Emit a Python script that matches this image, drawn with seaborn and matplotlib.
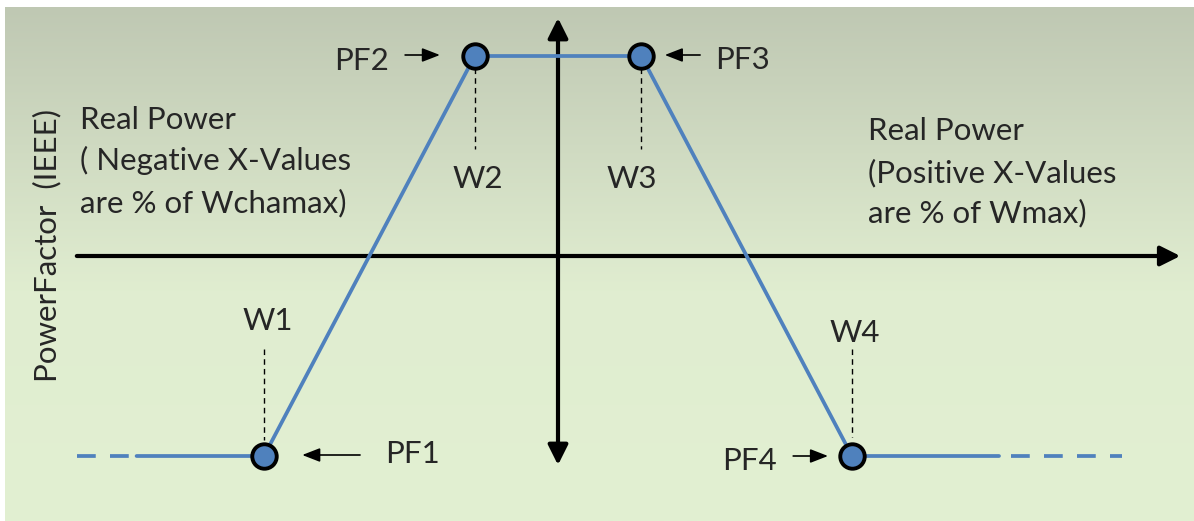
import numpy as np
import pandas as pd
import matplotlib
matplotlib.use("Agg")
import matplotlib.pyplot as plt
import seaborn as sns
from matplotlib.colors import LinearSegmentedColormap

sns.set_style("white")
plt.rcParams['font.family'] = ['Lato', 'DejaVu Sans']

# Volt-var style curve: real power (%) vs power factor
point_names = ["1", "2", "3", "4"]
w_values = [-60, -17, 17, 60]          # W1..W4 (% of Wchamax / Wmax)
pf_values = [-1.0, 1.0, 1.0, -1.0]     # PF1..PF4
tail_solid = [-86, 90]                 # solid extension beyond W1 / W4
tail_dash_left = [-98.2, -86]
tail_dash_right = [92.4, 115.1]

BLUE = "#4f81bd"
TXT = 22.5

fig = plt.figure(figsize=(11.94, 5.21), dpi=100)
ax = fig.add_axes([0, 0, 1, 1])
xlim = (-558 / 4.9, (1194 - 558) / 4.9)
ylim = ((256 - 521) / 200, 256 / 200)
ax.set_xlim(*xlim)
ax.set_ylim(*ylim)
ax.axis("off")

# gradient panel
grad = LinearSegmentedColormap.from_list(
    "bg", [(0, "#bfc8b3"), (0.55, "#e0edd0"), (1, "#e2f0d2")])
g = np.linspace(0, 1, 256).reshape(-1, 1)
ax.imshow(g, cmap=grad, aspect="auto", zorder=0,
          extent=[(5 - 558) / 4.9, xlim[1], ylim[0], (256 - 7) / 200])

# axes with arrows
ax.annotate("", xy=(127, 0), xytext=(-98.2, 0),
            arrowprops=dict(arrowstyle="-|>,head_length=0.8,head_width=0.4",
                            lw=3, color="black", shrinkA=0, shrinkB=0,
                            mutation_scale=15), zorder=2)
ax.annotate("", xy=(0, 1.19), xytext=(0, -1.045),
            arrowprops=dict(arrowstyle="<|-|>,head_length=0.8,head_width=0.4",
                            lw=3, color="black", shrinkA=0, shrinkB=0,
                            mutation_scale=15), zorder=2)

# curve
curve = pd.DataFrame({
    "w": [tail_solid[0]] + w_values + [tail_solid[1]],
    "pf": [pf_values[0]] + pf_values + [pf_values[-1]],
})
sns.lineplot(data=curve, x="w", y="pf", sort=False, color=BLUE, lw=2.7,
             ax=ax, zorder=3, legend=False)
for seg in (tail_dash_left, tail_dash_right):
    ax.plot(seg, [pf_values[0], pf_values[0]], color=BLUE, lw=2.7,
            dashes=(5.0, 3.8), zorder=3)

pts = pd.DataFrame({"w": w_values, "pf": pf_values})
sns.scatterplot(data=pts, x="w", y="pf", s=310, color=BLUE, edgecolor="black",
                linewidth=2.8, ax=ax, zorder=5, legend=False)

# dashed drop lines
drops = [(-0.465, -0.92), (0.94, 0.535), (0.94, 0.535), (-0.465, -0.905)]
for w, (y0, y1) in zip(w_values, drops):
    ax.plot([w, w], [y0, y1], color="black", lw=1.0, dashes=(4, 3), zorder=2)

# W labels
w_lab_pos = [(-59.2, -0.37), (-16.3, 0.34), (15.1, 0.34), (60.6, -0.43)]
for n, (x, y) in zip(point_names, w_lab_pos):
    ax.text(x, y, f"W{n}", ha="center", va="baseline", fontsize=TXT)

# PF labels with arrows
small = dict(arrowstyle="-|>,head_length=0.9,head_width=0.35", lw=1.2,
             color="black", shrinkA=0, shrinkB=0, mutation_scale=12)
ax.text(-34.5, 0.93, "PF2", ha="right", va="baseline", fontsize=TXT)
ax.annotate("", xy=(-24.1, 1.005), xytext=(-31.2, 1.005), arrowprops=small)
ax.text(32.0, 0.935, "PF3", ha="left", va="baseline", fontsize=TXT)
ax.annotate("", xy=(21.8, 1.005), xytext=(29.0, 1.005), arrowprops=small)
ax.text(-35.3, -1.035, "PF1", ha="left", va="baseline", fontsize=TXT)
ax.annotate("", xy=(-52.2, -0.995), xytext=(-40.4, -0.995), arrowprops=small)
ax.text(44.7, -1.07, "PF4", ha="right", va="baseline", fontsize=TXT)
ax.annotate("", xy=(55.1, -1.0), xytext=(48.0, -1.0), arrowprops=small)

# region descriptions
left_lines = ["Real Power", "( Negative X-Values", "are % of Wchamax)"]
for s, y in zip(left_lines, [0.635, 0.43, 0.22]):
    ax.text(-97.6, y, s, ha="left", va="baseline", fontsize=TXT)
right_lines = ["Real Power", "(Positive X-Values", "are % of Wmax)"]
for s, y in zip(right_lines, [0.58, 0.37, 0.17]):
    ax.text(63.3, y, s, ha="left", va="baseline", fontsize=TXT)

ax.text(-104.3, 0.055, "PowerFactor  (IEEE)", rotation=90, ha="center",
        va="center", fontsize=TXT)

fig.savefig("out.png", dpi=100)
